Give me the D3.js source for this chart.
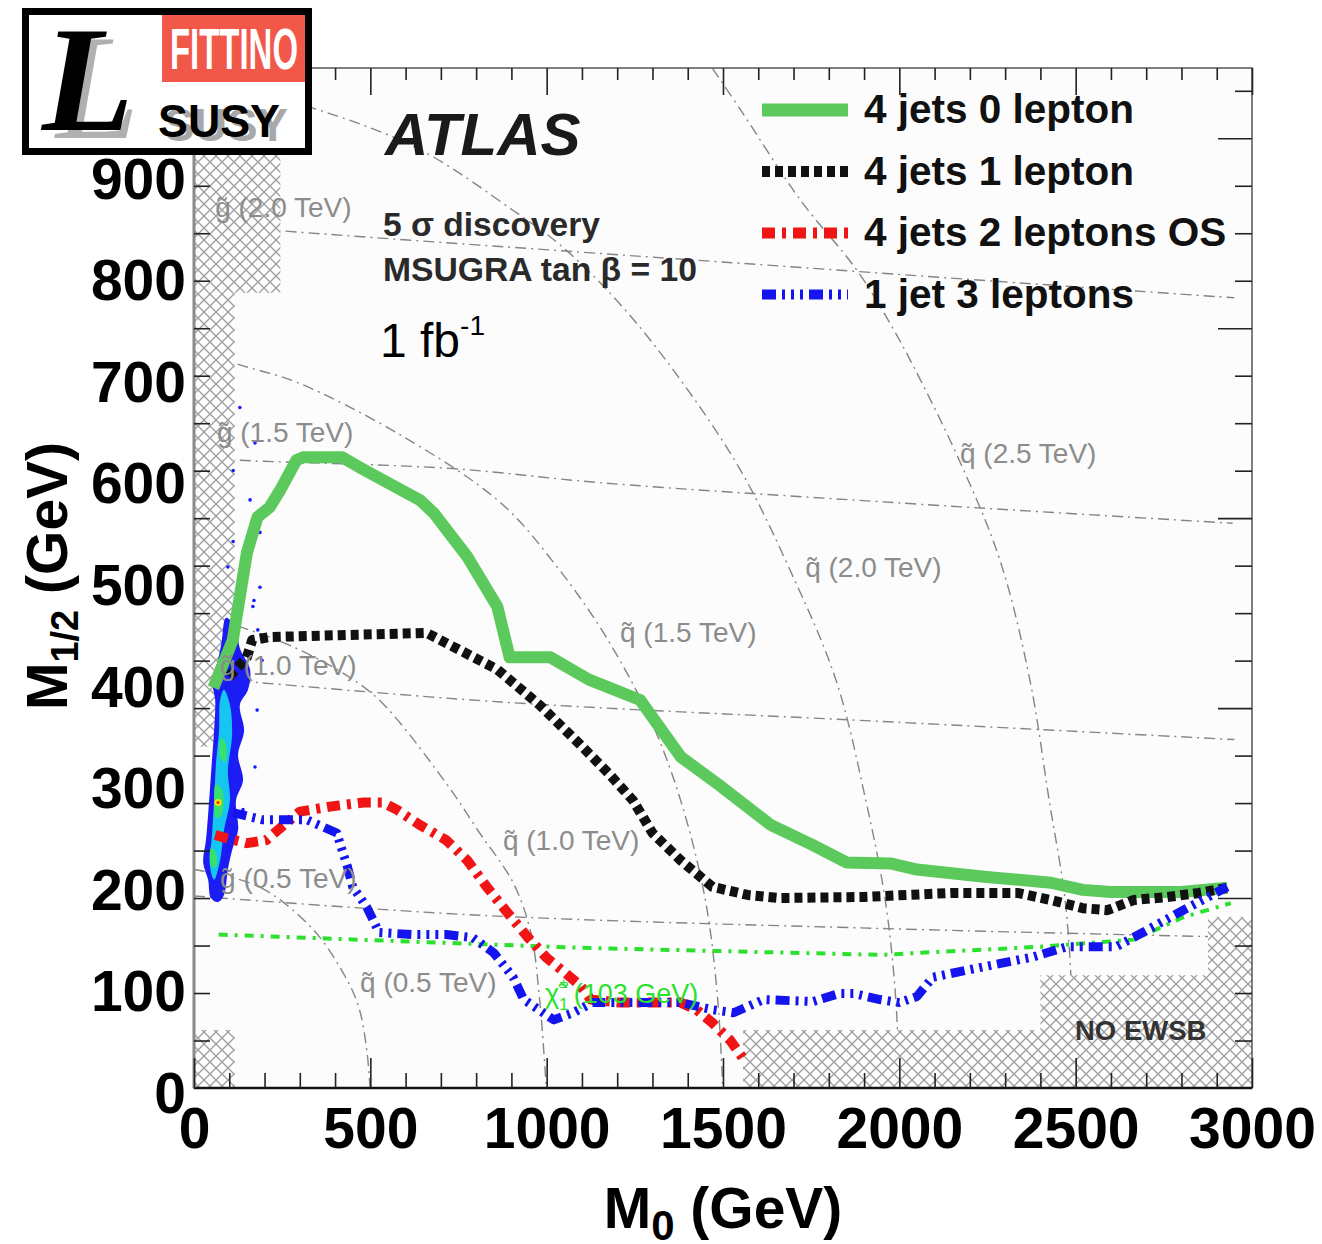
<!DOCTYPE html>
<html>
<head>
<meta charset="utf-8">
<script src="https://cdn.jsdelivr.net/npm/d3@7"></script>
<style>
body { margin: 0; background: #fff; }
svg { display: block; font-family: "Liberation Sans", Arial, Helvetica, sans-serif; }
</style>
</head>
<body>
<svg id="chart" width="1322" height="1244"></svg>
<script>
// ---- values (M0, M1/2 in GeV) ----
var m0Ticks = [0, 500, 1000, 1500, 2000, 2500, 3000];
var m12Ticks = [0, 100, 200, 300, 400, 500, 600, 700, 800, 900];
var seriesNames = ["4 jets 0 lepton", "4 jets 1 lepton", "4 jets 2 leptons OS", "1 jet 3 leptons"];

var jets4lep0 = [[55,400],[110,447],[150,533],[180,568],[215,578],[245,595],[290,624],[310,627],[420,627],[470,617],[640,585],[680,572],[775,529],[860,480],[895,430],[1010,430],[1120,408],[1265,388],[1380,332],[1490,304],[1635,265],[1755,245],[1850,228],[1975,227],[2050,221],[2240,214],[2430,208],[2520,201],[2600,199],[2800,199],[2930,203]];
var jets4lep1 = [[100,411],[150,430],[165,447],[215,450],[660,454],[715,444],[810,427],[860,418],[980,383],[1095,344],[1180,314],[1245,289],[1300,257],[1380,230],[1470,204],[1570,196],[1660,193],[1900,194],[2145,198],[2335,198],[2430,191],[2520,183],[2590,181],[2665,191],[2760,194],[2850,198],[2930,203]];
var jets4lep2 = [[60,255],[80,253],[150,247],[205,250],[245,262],[300,278],[385,283],[480,287],[535,287],[575,280],[640,265],[715,250],[775,230],[830,204],[890,178],[945,155],[1000,134],[1050,120],[1095,107],[1125,93],[1210,90],[1380,90],[1425,83],[1470,70],[1520,53],[1555,36]];
var jet1lep3 = [[110,277],[195,270],[320,270],[405,257],[420,240],[435,224],[450,204],[490,184],[525,159],[620,157],[715,157],[790,154],[850,139],[905,115],[935,93],[1020,73],[1075,80],[1130,90],[1380,90],[1470,83],[1530,80],[1615,93],[1755,91],[1830,99],[1870,99],[1945,93],[2000,90],[2050,96],[2095,115],[2235,125],[2380,135],[2475,145],[2615,145],[2690,159],[2805,181],[2930,204]];

var chargino103 = [[70,157],[1095,144],[1945,137],[2400,145],[2665,152],[2805,174],[2940,188]];

var gluinoMass = ["2.0", "1.5", "1.0", "0.5"];
var gluino20 = [[0,857],[245,850],[1095,829],[1550,818],[2285,800],[2950,784]];
var gluino15 = [[0,627],[130,624],[725,616],[1150,602],[2000,582],[2945,562]];
var gluino10 = [[0,410],[115,407],[870,386],[2000,366],[2950,349]];
var gluino05 = [[0,195],[810,176],[1945,163],[2880,155]];

var squarkMass = ["0.5", "1.0", "1.5", "2.0", "2.5"];
var squark05 = [[0,221],[185,204],[335,163],[415,124],[465,88],[490,43],[500,0]];
var squark10 = [[0,475],[140,459],[270,442],[415,416],[525,388],[715,306],[810,257],[905,208],[955,159],[980,93],[1000,0]];
var squark15 = [[0,733],[130,718],[290,701],[585,649],[870,582],[1025,521],[1165,452],[1295,368],[1380,289],[1450,191],[1485,93],[1500,0]];
var squark20 = [[0,1000],[335,971],[640,930],[905,870],[1045,834],[1210,777],[1380,703],[1550,614],[1690,516],[1820,408],[1905,289],[1960,191],[1990,93],[2000,0]];
var squark25 = [[1470,1010],[1550,969],[1720,880],[1880,811],[1980,755],[2060,703],[2170,624],[2285,526],[2370,408],[2425,289],[2470,191],[2490,93],[2500,0]];

// theoretically excluded corners
var exclTopLeft = [[0,789],[245,789],[245,1060],[0,1060]];
var exclLeft = [[0,342],[115,342],[115,789],[0,789]];
var exclLowLeft = [[0,-20],[115,-20],[115,63],[0,63]];
var noEwsb = [[1557,-20],[1557,63],[2400,63],[2400,117],[2875,117],[2875,174],[3050,174],[3050,-20]];

// Fittino likelihood blob (outer, inner, cores) and the scattered contour dots
var fitOuter = [[91,469],[119,459],[130,439],[159,418],[153,398],[130,383],[142,358],[125,334],[139,309],[119,289],[125,260],[108,240],[96,221],[85,196],[68,189],[48,193],[40,211],[26,228],[34,250],[40,275],[45,299],[51,329],[57,358],[60,388],[51,408],[68,427],[79,447]];
var fitInner = [[85,398],[102,383],[108,353],[96,319],[102,289],[85,260],[74,230],[57,211],[45,225],[51,255],[57,289],[62,324],[71,358],[74,388]];
var fitCore1 = [[62,305],[79,300],[79,275],[62,272],[57,289]];
var fitCore2 = [[48,242],[62,238],[62,223],[48,225]];
var fitCore3 = [[77,351],[91,344],[88,327],[74,331]];
var fitBest = [68, 287];
var fitDots = [[130,676],[173,641],[111,614],[159,585],[187,553],[111,544],[96,519],[187,499],[167,480],[181,457],[193,427],[179,378],[173,322],[139,280],[170,486]];

// ---- layout ----
var plot = { left: 194, right: 1252, top: 68, bottom: 1088 };
var x = d3.scaleLinear().domain([0, 3000]).range([plot.left, plot.right]);
var y = d3.scaleLinear().domain([0, 900]).range([1094, 180]);          // printed labels
var yFrame = d3.scaleLinear().domain([0, 1074]).range([plot.bottom, plot.top]); // frame ticks

var svg = d3.select("#chart");
var defs = svg.append("defs");
defs.append("clipPath").attr("id", "clip")
  .append("rect")
  .attr("x", plot.left).attr("y", plot.top)
  .attr("width", plot.right - plot.left).attr("height", plot.bottom - plot.top);

var pat = defs.append("pattern").attr("id", "hatch")
  .attr("patternUnits", "userSpaceOnUse").attr("width", 12).attr("height", 12);
pat.append("rect").attr("width", 12).attr("height", 12).attr("fill", "#fdfdfd");
pat.append("path").attr("d", "M0,0L12,12M12,0L0,12M-1,11L1,13M11,-1L13,1")
  .attr("stroke", "#9d9d9d").attr("stroke-width", 1.3).attr("fill", "none");

svg.append("rect").attr("width", 1322).attr("height", 1244).attr("fill", "#fff");
svg.append("rect")
  .attr("x", plot.left).attr("y", plot.top)
  .attr("width", plot.right - plot.left).attr("height", plot.bottom - plot.top)
  .attr("fill", "#fbfcfb");

var line = d3.line().x(function(d) { return x(d[0]); }).y(function(d) { return y(d[1]); });
var smoothLine = d3.line().x(function(d) { return x(d[0]); }).y(function(d) { return y(d[1]); })
  .curve(d3.curveCatmullRom.alpha(0.5));
var blobLine = d3.line().x(function(d) { return x(d[0]); }).y(function(d) { return y(d[1]); })
  .curve(d3.curveCatmullRomClosed.alpha(0.5));

var g = svg.append("g").attr("clip-path", "url(#clip)");

// mass contours
var gluinoLines = [gluino20, gluino15, gluino10, gluino05];
var squarkLines = [squark05, squark10, squark15, squark20, squark25];
g.selectAll("path.mass")
  .data(gluinoLines.concat(squarkLines))
  .enter().append("path")
  .attr("class", "mass")
  .attr("d", smoothLine)
  .attr("fill", "none")
  .attr("stroke", "#858585")
  .attr("stroke-width", 1.4)
  .attr("stroke-dasharray", "11,5,2,5");

// excluded regions
g.selectAll("path.excl")
  .data([exclTopLeft, exclLeft, exclLowLeft, noEwsb])
  .enter().append("path")
  .attr("class", "excl")
  .attr("d", function(d) { return line(d) + "Z"; })
  .attr("fill", "url(#hatch)");

// contour labels
var labelFont = 28;
var gluinoAt = [[60,864],[65,642],[74,413],[74,203]];
var squarkAt = [[471,100],[876,240],[1208,445],[1733,509],[2172,621]];
svg.selectAll("text.glabel")
  .data(gluinoMass)
  .enter().append("text")
  .attr("class", "glabel")
  .attr("x", function(d, i) { return x(gluinoAt[i][0]); })
  .attr("y", function(d, i) { return y(gluinoAt[i][1]); })
  .attr("font-size", labelFont).attr("fill", "#8c8c8c")
  .text(function(d) { return "g\u0303 (" + d + " TeV)"; });
svg.selectAll("text.qlabel")
  .data(squarkMass)
  .enter().append("text")
  .attr("class", "qlabel")
  .attr("x", function(d, i) { return x(squarkAt[i][0]); })
  .attr("y", function(d, i) { return y(squarkAt[i][1]); })
  .attr("font-size", labelFont).attr("fill", "#8c8c8c")
  .text(function(d) { return "q\u0303 (" + d + " TeV)"; });

// chargino limit
g.append("path").attr("d", line(chargino103))
  .attr("fill", "none").attr("stroke", "#2ee02e").attr("stroke-width", 4)
  .attr("stroke-dasharray", "9,7,3,7");
var chi = svg.append("text").attr("x", x(995)).attr("y", y(90))
  .attr("font-size", 27).attr("fill", "#2ee02e");
chi.append("tspan").text("\u03C7\u0303");
chi.append("tspan").attr("font-size", 17).attr("dy", 7).text("1");
chi.append("tspan").attr("font-size", 15).attr("dy", -22).attr("dx", -9).text("\u00B1");
chi.append("tspan").attr("dy", 15).attr("dx", 6).text("(103 GeV)");

// Fittino blob
g.selectAll("circle.fdot")
  .data(fitDots)
  .enter().append("circle")
  .attr("class", "fdot")
  .attr("cx", function(d) { return x(d[0]); })
  .attr("cy", function(d) { return y(d[1]); })
  .attr("r", 1.8).attr("fill", "#1a1aff");
var blobFills = ["#1c1cf5", "#14c6f0", "#38e070", "#38e070", "#38e070"];
g.selectAll("path.blob")
  .data([fitOuter, fitInner, fitCore1, fitCore2, fitCore3])
  .enter().append("path")
  .attr("class", "blob")
  .attr("d", blobLine)
  .attr("fill", function(d, i) { return blobFills[i]; });
g.append("circle").attr("cx", x(fitBest[0])).attr("cy", y(fitBest[1])).attr("r", 3.5).attr("fill", "#ffe000");
g.append("circle").attr("cx", x(fitBest[0])).attr("cy", y(fitBest[1])).attr("r", 1.5).attr("fill", "#ff2000");

// discovery curves
var styles = [
  { color: "#5cc95c", width: 12, dash: null },
  { color: "#111111", width: 10, dash: "8,5" },
  { color: "#f01414", width: 10, dash: "13,7,4,7" },
  { color: "#1414ee", width: 9,  dash: "14,6,3,6,3,6,3,6" }
];
var series = [jets4lep0, jets4lep1, jets4lep2, jet1lep3];
g.selectAll("path.curve")
  .data(series)
  .enter().append("path")
  .attr("class", "curve")
  .attr("d", line)
  .attr("fill", "none")
  .attr("stroke", function(d, i) { return styles[i].color; })
  .attr("stroke-width", function(d, i) { return styles[i].width; })
  .attr("stroke-dasharray", function(d, i) { return styles[i].dash; })
  .attr("stroke-linejoin", "round");

// frame and its ticks
svg.append("rect")
  .attr("x", plot.left).attr("y", plot.top)
  .attr("width", plot.right - plot.left).attr("height", plot.bottom - plot.top)
  .attr("fill", "none").attr("stroke", "#555").attr("stroke-width", 1.5);
svg.append("line").attr("x1", plot.left).attr("x2", plot.right)
  .attr("y1", plot.bottom).attr("y2", plot.bottom).attr("stroke", "#111").attr("stroke-width", 2.5);
svg.append("line").attr("x1", plot.left).attr("x2", plot.left)
  .attr("y1", plot.top).attr("y2", plot.bottom).attr("stroke", "#8a8a8a").attr("stroke-width", 3);

var minorX = d3.range(0, 3001, 100).filter(function(v) { return v % 500; });
var majorX = d3.range(0, 3001, 500);
var minorY = d3.range(50, 1051, 50).filter(function(v) { return v % 200; });
var majorY = d3.range(200, 1051, 200);

function frameAxis(axis, pos, vals, size) {
  var a = svg.append("g").attr("transform", pos)
    .call(axis.tickValues(vals).tickSize(-size).tickFormat(""));
  a.select(".domain").remove();
  a.selectAll("line").attr("stroke", "#222").attr("stroke-width", 1.6);
}
frameAxis(d3.axisBottom(x), "translate(0," + plot.bottom + ")", minorX, 15);
frameAxis(d3.axisBottom(x), "translate(0," + plot.bottom + ")", majorX, 30);
frameAxis(d3.axisTop(x), "translate(0," + plot.top + ")", minorX, 12);
frameAxis(d3.axisTop(x), "translate(0," + plot.top + ")", majorX, 27);
frameAxis(d3.axisLeft(yFrame), "translate(" + plot.left + ",0)", minorY.concat(majorY), 16);
frameAxis(d3.axisRight(yFrame), "translate(" + plot.right + ",0)", minorY, 17);
frameAxis(d3.axisRight(yFrame), "translate(" + plot.right + ",0)", majorY, 34);

// printed tick labels
var tickFont = 57;
var xAx = svg.append("g").attr("transform", "translate(0," + plot.bottom + ")")
  .call(d3.axisBottom(x).tickValues(m0Ticks).tickFormat(d3.format("d")).tickSize(0).tickPadding(20));
xAx.select(".domain").remove();
xAx.selectAll("text").attr("font-size", tickFont).attr("font-weight", "bold")
  .attr("fill", "#000").attr("font-family", "Liberation Sans, Arial, sans-serif");
var yAx = svg.append("g").attr("transform", "translate(" + plot.left + ",0)")
  .call(d3.axisLeft(y).tickValues(m12Ticks).tickFormat(d3.format("d")).tickSize(0).tickPadding(8));
yAx.select(".domain").remove();
yAx.selectAll("text").attr("font-size", tickFont).attr("font-weight", "bold")
  .attr("fill", "#000").attr("font-family", "Liberation Sans, Arial, sans-serif");

// axis titles
var xt = svg.append("text").attr("x", x(1500)).attr("y", 1228)
  .attr("text-anchor", "middle").attr("font-size", 57).attr("font-weight", "bold");
xt.append("tspan").text("M");
xt.append("tspan").attr("font-size", 42).attr("dy", 12).text("0");
xt.append("tspan").attr("dy", -12).text(" (GeV)");

var yt = svg.append("text").attr("transform", "translate(67," + 576 + ") rotate(-90)")
  .attr("text-anchor", "middle").attr("font-size", 57).attr("font-weight", "bold");
yt.append("tspan").text("M");
yt.append("tspan").attr("font-size", 38).attr("dy", 11).text("1/2");
yt.append("tspan").attr("dy", -11).text(" (GeV)");

// annotations
svg.append("text").attr("x", 385).attr("y", 155)
  .attr("font-size", 60).attr("font-weight", "bold").attr("font-style", "italic")
  .attr("fill", "#1a1a1a").text("ATLAS");
svg.append("text").attr("x", 383).attr("y", 236)
  .attr("font-size", 33).attr("font-weight", "bold").attr("fill", "#2a2a2a")
  .attr("textLength", 217).attr("lengthAdjust", "spacingAndGlyphs")
  .text("5 \u03C3 discovery");
svg.append("text").attr("x", 383).attr("y", 281)
  .attr("font-size", 33).attr("font-weight", "bold").attr("fill", "#2a2a2a")
  .attr("textLength", 314).attr("lengthAdjust", "spacingAndGlyphs")
  .text("MSUGRA tan \u03B2 = 10");
var lumi = svg.append("text").attr("x", 380).attr("y", 357).attr("font-size", 48).attr("fill", "#000");
lumi.append("tspan").text("1 fb");
lumi.append("tspan").attr("font-size", 28).attr("dy", -22).text("-1");
svg.append("text").attr("x", 1075).attr("y", 1040)
  .attr("font-size", 27.5).attr("font-weight", "bold").attr("fill", "#333").text("NO EWSB");

// legend
var leg = svg.selectAll("g.leg")
  .data(seriesNames)
  .enter().append("g")
  .attr("class", "leg")
  .attr("transform", function(d, i) { return "translate(0," + (110 + i * 61.5) + ")"; });
leg.append("line")
  .attr("x1", 762).attr("x2", 848)
  .attr("stroke", function(d, i) { return styles[i].color; })
  .attr("stroke-width", function(d, i) { return styles[i].width + 1; })
  .attr("stroke-dasharray", function(d, i) { return styles[i].dash; });
leg.append("text")
  .attr("x", 864).attr("y", 13)
  .attr("font-size", 40.5).attr("font-weight", "bold").attr("fill", "#111")
  .text(function(d) { return d; });

// Fittino logo
var logo = svg.append("g");
logo.append("rect").attr("x", 25.5).attr("y", 11.5).attr("width", 283).attr("height", 140)
  .attr("fill", "#fff").attr("stroke", "#000").attr("stroke-width", 7);
logo.append("rect").attr("x", 162).attr("y", 15).attr("width", 143).attr("height", 67).attr("fill", "#f2584a");
logo.append("text").attr("x", 170).attr("y", 69).attr("font-size", 58).attr("font-weight", "bold")
  .attr("textLength", 128).attr("lengthAdjust", "spacingAndGlyphs")
  .attr("fill", "#fff").text("FITTINO");
logo.append("text").attr("x", 56).attr("y", 138).attr("font-size", 150)
  .attr("font-family", "Liberation Serif, serif").attr("font-style", "italic")
  .attr("fill", "#b0b0b0").text("L");
logo.append("text").attr("x", 42).attr("y", 130).attr("font-size", 150)
  .attr("font-family", "Liberation Serif, serif").attr("font-style", "italic").attr("font-weight", "bold")
  .attr("fill", "#000").text("L");
logo.append("text").attr("x", 164).attr("y", 141).attr("font-size", 47).attr("font-weight", "bold")
  .attr("textLength", 124).attr("lengthAdjust", "spacingAndGlyphs")
  .attr("fill", "#a8a8a8").text("SUSY");
logo.append("text").attr("x", 158).attr("y", 137).attr("font-size", 47).attr("font-weight", "bold")
  .attr("textLength", 122).attr("lengthAdjust", "spacingAndGlyphs")
  .attr("fill", "#000").text("SUSY");
</script>
</body>
</html>
